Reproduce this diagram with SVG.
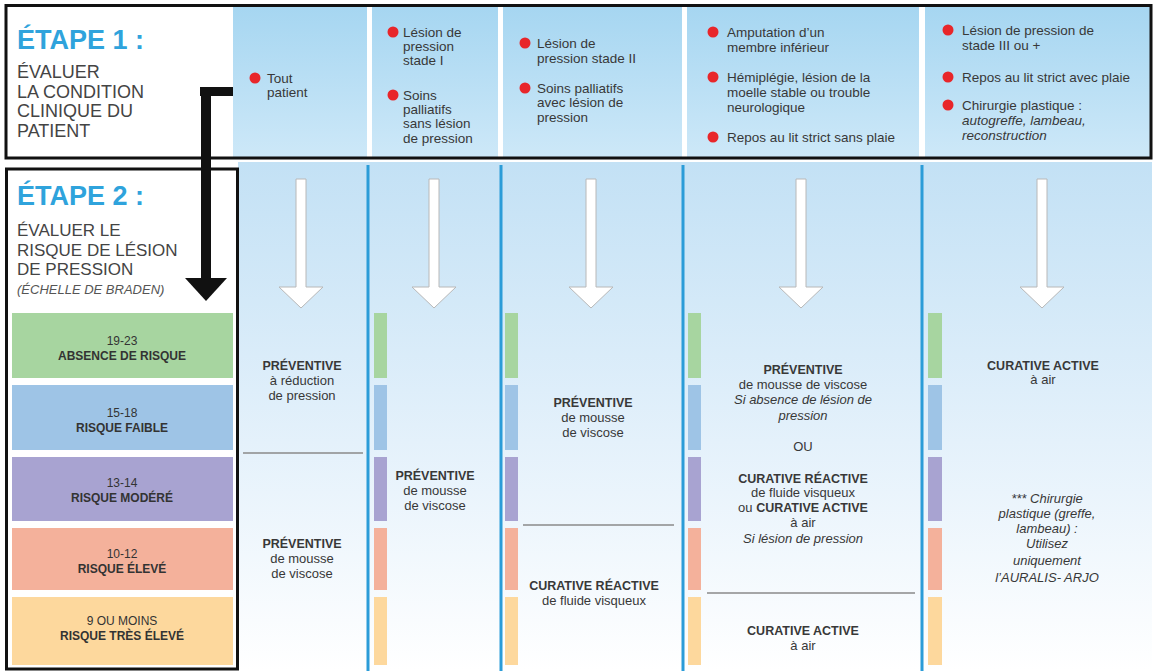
<svg xmlns="http://www.w3.org/2000/svg" width="1154" height="671" viewBox="0 0 1154 671">
<defs>
<linearGradient id="gTop" x1="0" y1="0" x2="0" y2="1">
<stop offset="0" stop-color="#a6d6f1"/>
<stop offset="1" stop-color="#cde8f8"/>
</linearGradient>
<linearGradient id="gBody" gradientUnits="userSpaceOnUse" x1="0" y1="162" x2="0" y2="671">
<stop offset="0" stop-color="#c3e1f5"/>
<stop offset="0.55" stop-color="#e4f1fb"/>
<stop offset="1" stop-color="#ffffff"/>
</linearGradient>
<style>
.t{font-family:"Liberation Sans",Arial,sans-serif;fill:#383838}
.h{font-size:13.5px}
.n{font-size:13px}
.b{font-weight:bold;font-size:12.5px}
.c{text-anchor:middle}
.i{font-style:italic}
.dot{fill:#e8262a}
.step{font-family:"Liberation Sans",Arial,sans-serif;font-weight:bold;fill:#2fa3dc;font-size:27px}
.sub{font-family:"Liberation Sans",Arial,sans-serif;font-size:18px;fill:#444}
.arr{fill:#ffffff;stroke:#b8b8b8;stroke-width:1}
.vline{stroke:#2b9cd8;stroke-width:3}
.sep{stroke:#8a8a8a;stroke-width:1.5}
.rl{font-family:"Liberation Sans",Arial,sans-serif;font-size:12px;fill:#333;text-anchor:middle}
.g{fill:#a7d5a0}.bl{fill:#9ec4e6}.p{fill:#a8a3d1}.s{fill:#f4b19b}.y{fill:#fdd89d}
</style>
</defs>
<rect width="1154" height="671" fill="#ffffff"/>

<!-- body background -->
<rect x="238" y="162" width="914" height="509" fill="url(#gBody)"/>

<!-- top header cells -->
<g id="header">
<rect x="233" y="7" width="134" height="150" fill="url(#gTop)"/>
<rect x="372" y="7" width="126" height="150" fill="url(#gTop)"/>
<rect x="503" y="7" width="179" height="150" fill="url(#gTop)"/>
<rect x="687" y="7" width="232" height="150" fill="url(#gTop)"/>
<rect x="925" y="7" width="225" height="150" fill="url(#gTop)"/>
</g>

<g id="step1">
<rect x="7" y="7" width="226" height="150" fill="#ffffff"/>
<text class="step" x="17" y="49">ÉTAPE 1 :</text>
<text class="sub" x="17" y="78">ÉVALUER</text>
<text class="sub" x="17" y="98">LA CONDITION</text>
<text class="sub" x="17" y="117">CLINIQUE DU</text>
<text class="sub" x="17" y="137">PATIENT</text>
</g>

<rect x="6" y="5.5" width="1145" height="152.5" fill="none" stroke="#111" stroke-width="3"/>

<g id="cond1">
<circle class="dot" cx="255" cy="78" r="5.5"/>
<text class="t h" x="267" y="83">Tout</text>
<text class="t h" x="267" y="97">patient</text>
</g>
<g id="cond2">
<circle class="dot" cx="393" cy="32" r="5.5"/>
<text class="t h" x="403" y="37">Lésion de</text>
<text class="t h" x="403" y="51">pression</text>
<text class="t h" x="403" y="65">stade I</text>
<circle class="dot" cx="393" cy="95" r="5.5"/>
<text class="t h" x="403" y="100">Soins</text>
<text class="t h" x="403" y="114">palliatifs</text>
<text class="t h" x="403" y="128">sans lésion</text>
<text class="t h" x="403" y="143">de pression</text>
</g>
<g id="cond3">
<circle class="dot" cx="525" cy="43" r="5.5"/>
<text class="t h" x="537" y="48">Lésion de</text>
<text class="t h" x="537" y="63">pression stade II</text>
<circle class="dot" cx="525" cy="88" r="5.5"/>
<text class="t h" x="537" y="93">Soins palliatifs</text>
<text class="t h" x="537" y="107">avec lésion de</text>
<text class="t h" x="537" y="122">pression</text>
</g>
<g id="cond4">
<circle class="dot" cx="713" cy="32" r="5.5"/>
<text class="t h" x="727" y="37">Amputation d’un</text>
<text class="t h" x="727" y="52">membre inférieur</text>
<circle class="dot" cx="713" cy="77" r="5.5"/>
<text class="t h" x="727" y="82">Hémiplégie, lésion de la</text>
<text class="t h" x="727" y="97">moelle stable ou trouble</text>
<text class="t h" x="727" y="112">neurologique</text>
<circle class="dot" cx="713" cy="137" r="5.5"/>
<text class="t h" x="727" y="142">Repos au lit strict sans plaie</text>
</g>
<g id="cond5">
<circle class="dot" cx="948" cy="30" r="5.5"/>
<text class="t h" x="962" y="35">Lésion de pression de</text>
<text class="t h" x="962" y="50">stade III ou +</text>
<circle class="dot" cx="948" cy="77" r="5.5"/>
<text class="t h" x="962" y="82">Repos au lit strict avec plaie</text>
<circle class="dot" cx="948" cy="105" r="5.5"/>
<text class="t h" x="962" y="110">Chirurgie plastique :</text>
<text class="t h i" x="962" y="125">autogreffe, lambeau,</text>
<text class="t h i" x="962" y="140">reconstruction</text>
</g>

<g id="step2">
<rect x="6.5" y="169" width="231" height="500" fill="#ffffff" stroke="#111" stroke-width="3"/>
<text class="step" x="17" y="205">ÉTAPE 2 :</text>
<text class="sub" x="17" y="236" style="font-size:17px">ÉVALUER LE</text>
<text class="sub" x="17" y="256" style="font-size:17px">RISQUE DE LÉSION</text>
<text class="sub" x="17" y="275" style="font-size:17px">DE PRESSION</text>
<text class="sub" x="17" y="294" style="font-size:13px;font-style:italic;fill:#555">(ÉCHELLE DE BRADEN)</text>
</g>

<g id="risk">
<rect class="g" x="12" y="313" width="221" height="65"/>
<text class="rl" x="122" y="345">19-23</text>
<text class="rl" x="122" y="360" font-weight="bold">ABSENCE DE RISQUE</text>
<rect class="bl" x="12" y="385" width="221" height="65"/>
<text class="rl" x="122" y="417">15-18</text>
<text class="rl" x="122" y="432" font-weight="bold">RISQUE FAIBLE</text>
<rect class="p" x="12" y="457" width="221" height="64"/>
<text class="rl" x="122" y="487">13-14</text>
<text class="rl" x="122" y="502" font-weight="bold">RISQUE MODÉRÉ</text>
<rect class="s" x="12" y="528" width="221" height="62"/>
<text class="rl" x="122" y="558">10-12</text>
<text class="rl" x="122" y="573" font-weight="bold">RISQUE ÉLEVÉ</text>
<rect class="y" x="12" y="597" width="221" height="68"/>
<text class="rl" x="122" y="625">9 OU MOINS</text>
<text class="rl" x="122" y="640" font-weight="bold">RISQUE TRÈS ÉLEVÉ</text>
</g>

<g id="strips">
<g transform="translate(374,0)">
<rect class="g" x="0" y="313" width="13" height="65"/><rect class="bl" x="0" y="385" width="13" height="65"/><rect class="p" x="0" y="457" width="13" height="64"/><rect class="s" x="0" y="528" width="13" height="62"/><rect class="y" x="0" y="597" width="13" height="68"/>
</g>
<g transform="translate(505,0)">
<rect class="g" x="0" y="313" width="13" height="65"/><rect class="bl" x="0" y="385" width="13" height="65"/><rect class="p" x="0" y="457" width="13" height="64"/><rect class="s" x="0" y="528" width="13" height="62"/><rect class="y" x="0" y="597" width="13" height="68"/>
</g>
<g transform="translate(688,0)">
<rect class="g" x="0" y="313" width="13" height="65"/><rect class="bl" x="0" y="385" width="13" height="65"/><rect class="p" x="0" y="457" width="13" height="64"/><rect class="s" x="0" y="528" width="13" height="62"/><rect class="y" x="0" y="597" width="13" height="68"/>
</g>
<g transform="translate(928,0)">
<rect class="g" x="0" y="313" width="14" height="65"/><rect class="bl" x="0" y="385" width="14" height="65"/><rect class="p" x="0" y="457" width="14" height="64"/><rect class="s" x="0" y="528" width="14" height="62"/><rect class="y" x="0" y="597" width="14" height="68"/>
</g>
</g>

<g id="dividers">
<line class="vline" x1="368" y1="165" x2="368" y2="671"/>
<line class="vline" x1="501" y1="165" x2="501" y2="671"/>
<line class="vline" x1="683" y1="165" x2="683" y2="671"/>
<line class="vline" x1="922" y1="165" x2="922" y2="671"/>
<line class="sep" x1="243" y1="453" x2="363" y2="453"/>
<line class="sep" x1="523" y1="525" x2="674" y2="525"/>
<line class="sep" x1="707" y1="593" x2="915" y2="593"/>
</g>

<g id="connectors">
<rect x="200" y="87" width="33" height="9" fill="#111"/>
<rect x="201" y="87" width="10" height="193" fill="#111"/>
<polygon points="185,278 227,278 206,301" fill="#111"/>
<polygon class="arr" points="296,179 306,179 306,287 323,287 301,308 279,287 296,287"/>
<polygon class="arr" points="429,179 439,179 439,287 456,287 434,308 412,287 429,287"/>
<polygon class="arr" points="586,179 596,179 596,287 613,287 591,308 569,287 586,287"/>
<polygon class="arr" points="796,179 806,179 806,287 823,287 801,308 779,287 796,287"/>
<polygon class="arr" points="1037,179 1047,179 1047,287 1064,287 1042,308 1020,287 1037,287"/>
</g>

<g id="col1">
<text class="t b c" x="302" y="370">PRÉVENTIVE</text>
<text class="t n c" x="302" y="385">à réduction</text>
<text class="t n c" x="302" y="400">de pression</text>
<text class="t b c" x="302" y="548">PRÉVENTIVE</text>
<text class="t n c" x="302" y="563">de mousse</text>
<text class="t n c" x="302" y="578">de viscose</text>
</g>
<g id="col2">
<text class="t b c" x="435" y="480">PRÉVENTIVE</text>
<text class="t n c" x="435" y="495">de mousse</text>
<text class="t n c" x="435" y="510">de viscose</text>
</g>
<g id="col3">
<text class="t b c" x="593" y="407">PRÉVENTIVE</text>
<text class="t n c" x="593" y="422">de mousse</text>
<text class="t n c" x="593" y="437">de viscose</text>
<text class="t b c" x="594" y="590">CURATIVE RÉACTIVE</text>
<text class="t n c" x="594" y="605">de fluide visqueux</text>
</g>
<g id="col4">
<text class="t b c" x="803" y="374">PRÉVENTIVE</text>
<text class="t n c" x="803" y="389">de mousse de viscose</text>
<text class="t n c i" x="803" y="404">Si absence de lésion de</text>
<text class="t n c i" x="803" y="420">pression</text>
<text class="t n c" x="803" y="451">OU</text>
<text class="t b c" x="803" y="483">CURATIVE RÉACTIVE</text>
<text class="t n c" x="803" y="497">de fluide visqueux</text>
<text class="t n c" x="803" y="512">ou <tspan font-weight="bold" font-size="12.5">CURATIVE ACTIVE</tspan></text>
<text class="t n c" x="803" y="527">à air</text>
<text class="t n c i" x="803" y="543">Si lésion de pression</text>
<text class="t b c" x="803" y="635">CURATIVE ACTIVE</text>
<text class="t n c" x="803" y="650">à air</text>
</g>
<g id="col5">
<text class="t b c" x="1043" y="370">CURATIVE ACTIVE</text>
<text class="t n c" x="1043" y="384">à air</text>
<text class="t n c i" x="1047" y="503">*** Chirurgie</text>
<text class="t n c i" x="1047" y="518">plastique (greffe,</text>
<text class="t n c i" x="1047" y="533">lambeau) :</text>
<text class="t n c i" x="1047" y="548">Utilisez</text>
<text class="t n c i" x="1047" y="565">uniquement</text>
<text class="t n c i" x="1047" y="582">l’AURALIS- ARJO</text>
</g>
</svg>
